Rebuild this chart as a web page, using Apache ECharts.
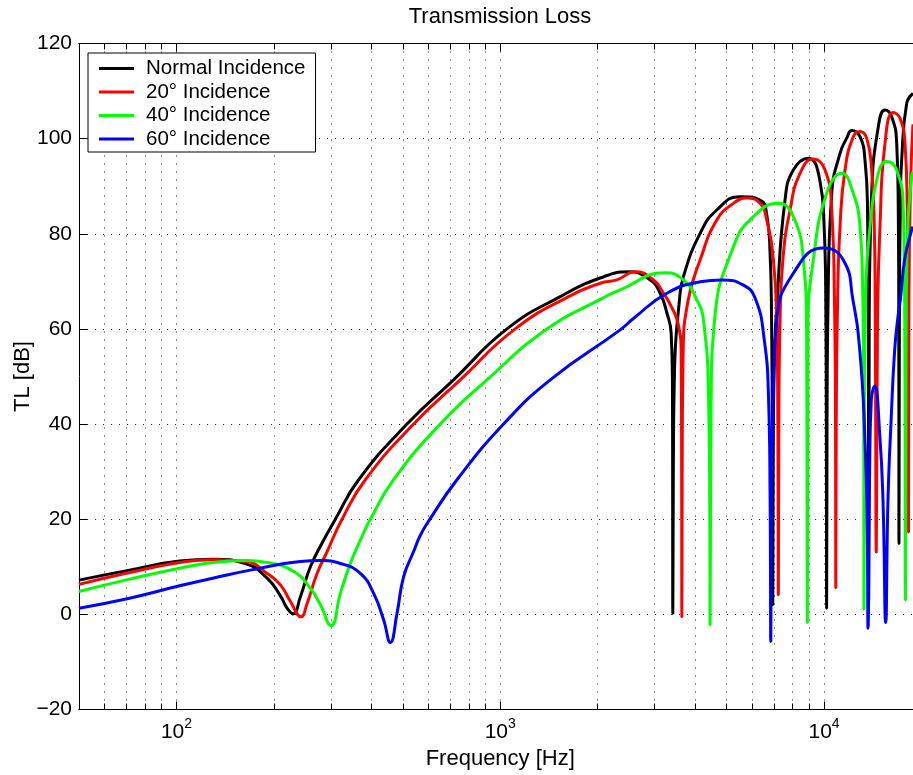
<!DOCTYPE html>
<html>
<head>
<meta charset="utf-8">
<title>Transmission Loss</title>
<script src="https://cdn.jsdelivr.net/npm/echarts@6/dist/echarts.min.js"></script>
<style>
  html, body { margin: 0; padding: 0; background: #fff; }
  #chart { width: 913px; height: 775px; }
</style>
</head>
<body>
<div id="chart"></div>
<script>
// frequency range of the axes [Hz]
const fMin = 50
const fMax = 20000

const majorTicks = [100, 1000, 10000]
const minorTicks = [60, 70, 80, 90, 200, 300, 400, 500, 600, 700, 800, 900,
  2000, 3000, 4000, 5000, 6000, 7000, 8000, 9000]

const seriesNames = ['Normal Incidence', '20° Incidence', '40° Incidence', '60° Incidence']
const seriesColors = ['#000000', '#ff0000', '#00ff00', '#0000ff']

// normal incidence
const normalFreq = [50, 71.6, 102.2, 129.2, 164.1, 190.5, 209.4, 219.6, 229.2, 241.4, 259.2, 281.7, 309.6,
  365.3, 515.2, 717.6, 1049, 1532, 2035, 2489, 2904, 3118, 3270, 3372, 3403, 3412, 3424, 3456, 3576,
  3679, 4143, 4665, 5505, 6345, 6653, 6813, 6886, 6925, 6945, 6970, 7034, 7160, 7579, 8039, 8944,
  9720, 10000, 10129, 10165, 10186, 10216, 10287, 10563, 11203, 11752, 12175, 12915, 13382, 13624,
  13700, 13740, 13787, 14034, 14711, 15427, 16180, 16765, 16955, 17017, 17041, 17088, 17222, 17369,
  17999, 18822]
const normalTL = [7.2, 9.3, 11.2, 11.6, 10.6, 7.6, 3.9, 1.3, 0.1, 3.7, 10, 15, 20,
  28.3, 40, 49.3, 60, 66.8, 70.7, 72, 70.3, 67.5, 63.4, 59.1, 48.6, 0.2, 30, 52, 66,
  71, 80.1, 85, 87.8, 87.1, 84, 76, 62, 35, 2, 35, 55, 66, 87.1, 93.4, 95.9,
  91, 82, 65, 40, 1.3, 40, 65, 88.5, 96.9, 100.1, 101.7, 100.4, 95.5, 85,
  60, 3, 60, 88.5, 102.5, 106, 104.6, 99, 85, 60, 14.9, 60, 88, 95.5,
  107.4, 109.5]

// 20 degree incidence
const deg20Freq = [50, 71.6, 102.2, 129.4, 164.1, 190.5, 209.4, 224.9, 242.6, 253.2, 271.8, 291.9,
  324.6, 383.1, 540, 752.4, 1112, 1625, 2035, 2292, 2610, 2973, 3192, 3389, 3544, 3620, 3633, 3638,
  3646, 3672, 3804, 4143, 4665, 5251, 5774, 6345, 6653, 6975, 7145, 7201, 7226, 7252, 7315, 7473,
  7853, 8431, 9268, 10072, 10563, 10775, 10852, 10874, 10907, 11008, 11203, 11609, 12313, 12915,
  13545, 14034, 14297, 14397, 14500, 14625, 14887, 15427, 16365, 17163, 17783, 18076, 18205, 18230,
  18293, 18493, 18822]
const deg20TL = [6.3, 8.8, 10.9, 11.5, 11.1, 8.6, 6.2, 2.7, -0.5, 2.3, 8.6, 13.2,
  20, 28.3, 40, 49.3, 60, 66.8, 69.6, 70.3, 72, 70.3, 67.5, 64.5, 61, 55, 30, -0.5,
  30, 55, 66, 74.5, 82.9, 86.4, 87.5, 86.4, 82.9, 74.5, 61.9, 40, 4.1, 40, 61.9, 75,
  85, 92.7, 95.7, 93.4, 85, 65, 40, 5.6, 40, 65, 81.5, 93.4, 100.4, 101.5,
  100.1, 93.4, 81.5, 61.9, 13.1, 61.9, 81.5, 99, 105.5, 104.3, 99, 85, 67.5, 17.3,
  67.5, 90, 103]

// 40 degree incidence
const deg40Freq = [50, 71.6, 102.2, 129.4, 164.1, 190.5, 230.1, 259.2, 278.3, 300.3, 320.8, 344.4,
  369.8, 397.1, 468.6, 652.7, 909.9, 1394, 2035, 2346, 3231, 3679, 4047, 4242, 4401, 4439, 4448,
  4461, 4480, 4592, 5251, 6050, 7226, 8039, 8632, 8831, 8882, 8925, 9267, 10190, 11340, 12313,
  12915, 13148, 13243, 13290, 13335, 13480, 13870, 14540, 15613, 16765, 17572, 17758, 17844, 17934,
  18100, 18650, 18822]
const deg40TL = [4.8, 7.4, 9.7, 10.9, 11.3, 10.9, 9, 5.5, 2, -2.4, 4.4, 10.7,
  15.6, 20, 28.3, 40, 49.3, 60, 66.2, 68.2, 71.8, 70.3, 66.1, 61.9, 45, 20, -2.2,
  20, 45, 61.9, 77.3, 83.6, 86.4, 83.6, 74.5, 60, -1.7, 60, 74.5, 88.5, 92.7, 88.5,
  81.5, 70, 50, 1.1, 50, 70, 81.5, 91.3, 95.2, 93.4, 85, 60, 3, 60,
  80, 92, 93]

// 60 degree incidence
const deg60Freq = [50, 71.6, 102.2, 129.4, 169.2, 241.4, 278.3, 320.8, 369.8, 406.4, 436.4, 457.6,
  479.9, 502.9, 540, 566.3, 600.8, 735.2, 1024, 1427, 2346, 2578, 3270, 4143, 4834, 5636, 6124,
  6530, 6742, 6814, 6848, 6886, 6961, 7145, 8039, 9950, 11470, 12288, 12890, 13355, 13603, 13672,
  13836, 13996, 14338, 14855, 15208, 15502, 15758, 16133, 16528, 16920, 17199, 17783, 18650, 18822]
const deg60TL = [1.3, 3.4, 6, 7.6, 9.3, 11.1, 11.3, 10.7, 8.6, 4.4, -1.2, -5.9,
  0.2, 7.9, 13.2, 16.6, 19.6, 28.3, 40, 49.3, 59.8, 62.2, 67.5, 69.9, 70.3, 69.2, 66.5,
  58, 45, 25, -5.7, 25, 45, 61.9, 71.7, 77, 74.5, 66, 55.6, 38, 17, -2.9,
  31, 45, 48, 38, 24, -1.7, 24, 41.6, 55.6, 62.6, 66, 75, 80.8, 81.5]

const curves = [
  { freq: normalFreq, tl: normalTL },
  { freq: deg20Freq, tl: deg20TL },
  { freq: deg40Freq, tl: deg40TL },
  { freq: deg60Freq, tl: deg60TL }
]

const font = '"Liberation Sans", Arial, Helvetica, sans-serif'
const log10 = arr => arr.map(v => Math.log10(v))
const dotted = { color: '#222', width: 1, type: [1, 7] }

// the log frequency axis is a value axis over log10(f)
function freqAxis(position, ticks, len, extra) {
  return Object.assign({
    type: 'value',
    position,
    min: Math.log10(fMin),
    max: Math.log10(fMax),
    axisLine: { show: true, onZero: false, lineStyle: { color: '#000', width: 1 } },
    axisTick: { show: true, inside: true, length: len, customValues: log10(ticks),
      lineStyle: { color: '#000', width: 1 } },
    axisLabel: { show: false },
    splitLine: { show: false }
  }, extra)
}

const chart = echarts.init(document.getElementById('chart'))

chart.setOption({
  animation: false,
  textStyle: { fontFamily: font, color: '#000' },
  title: {
    text: 'Transmission Loss',
    left: 500,
    top: 6,
    padding: 0,
    textAlign: 'center',
    textStyle: { fontSize: 22, fontWeight: 'normal', color: '#000', fontFamily: font }
  },
  grid: {
    left: 79,
    top: 43.5,
    right: -8.5,
    bottom: 65.5,
    containLabel: false,
    outerBoundsMode: 'none'
  },
  legend: {
    orient: 'vertical',
    left: 88,
    top: 53,
    z: 20,
    backgroundColor: '#fff',
    borderColor: '#000',
    borderWidth: 1,
    borderRadius: 0,
    padding: [3.7, 10, 1.3, 11],
    itemGap: 0,
    itemWidth: 35,
    itemHeight: 3,
    icon: 'rect',
    selectedMode: false,
    textStyle: { fontSize: 20.5, color: '#000', lineHeight: 23.5, padding: [0, 0, 0, 7], fontFamily: font },
    data: seriesNames
  },
  xAxis: [
    freqAxis('bottom', minorTicks, 6, { splitLine: { show: true, lineStyle: dotted } }),
    freqAxis('bottom', majorTicks, 8, {
      splitLine: { show: true, lineStyle: dotted },
      axisLabel: {
        show: true,
        margin: 8,
        customValues: log10(majorTicks),
        formatter: v => '{b|10}{s|' + Math.round(v) + '}',
        rich: {
          b: { fontSize: 21, lineHeight: 30, color: '#000', fontFamily: font },
          s: { fontSize: 14, lineHeight: 14, verticalAlign: 'top', color: '#000', fontFamily: font }
        }
      },
      name: 'Frequency [Hz]',
      nameLocation: 'middle',
      nameGap: 37,
      nameTextStyle: { fontSize: 22, color: '#000', fontFamily: font }
    }),
    freqAxis('top', minorTicks, 6),
    freqAxis('top', majorTicks, 8)
  ],
  yAxis: {
    type: 'value',
    min: -20,
    max: 120,
    interval: 20,
    axisLine: { show: true, lineStyle: { color: '#000', width: 1 } },
    axisTick: { show: true, inside: true, length: 8, lineStyle: { color: '#000' } },
    axisLabel: {
      margin: 7,
      fontSize: 21,
      color: '#000',
      fontFamily: font,
      formatter: v => String(v).replace('-', '\u2212')
    },
    splitLine: { show: true, lineStyle: dotted },
    name: 'TL [dB]',
    nameLocation: 'middle',
    nameGap: 45,
    nameMoveOverlap: false,
    nameTextStyle: { fontSize: 22, color: '#000', fontFamily: font }
  },
  series: curves.map((c, i) => ({
    name: seriesNames[i],
    type: 'line',
    xAxisIndex: 0,
    yAxisIndex: 0,
    data: c.freq.map((f, j) => [Math.log10(f), c.tl[j]]),
    showSymbol: false,
    symbol: 'none',
    smooth: 0.5,
    lineStyle: { width: 3, color: seriesColors[i] },
    itemStyle: { color: seriesColors[i] },
    z: 3 + i
  }))
})
</script>
</body>
</html>
